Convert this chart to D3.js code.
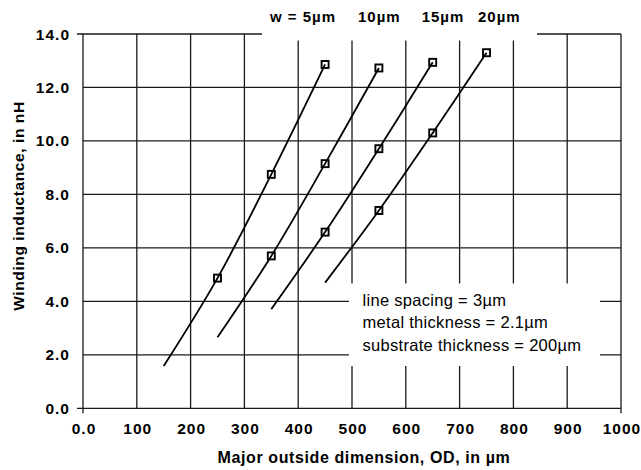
<!DOCTYPE html>
<html><head><meta charset="utf-8">
<script src="https://cdn.jsdelivr.net/npm/d3@7"></script>
<style>
html,body{margin:0;padding:0;background:#fff;}
text{font-family:"Liberation Sans",Arial,Helvetica,sans-serif;}
</style></head>
<body><svg id="c" width="641" height="470"></svg>
<script>
// ---- data ----
const seriesNames = ["w = 5\u00b5m", "10\u00b5m", "15\u00b5m", "20\u00b5m"];
// fitted curve points (first point = start of fitted line, rest = measured markers)
const od5  = [150, 250, 350, 450];
const ind5 = [1.58, 4.87, 8.75, 12.86];
const od10  = [250, 350, 450, 550];
const ind10 = [2.66, 5.70, 9.15, 12.73];
const od15  = [350, 450, 550, 650];
const ind15 = [3.71, 6.59, 9.71, 12.94];
const od20  = [450, 550, 650, 750];
const ind20 = [4.70, 7.40, 10.30, 13.30];
const xTicks = [0,100,200,300,400,500,600,700,800,900,1000];
const xTickLabels = ["0.0","100","200","300","400","500","600","700","800","900","1000"];
const yTicks = [0,2,4,6,8,10,12,14];
const yTickLabels = ["0.0","2.0","4.0","6.0","8.0","10.0","12.0","14.0"];
const notes = ["line spacing = 3\u00b5m", "metal thickness = 2.1\u00b5m", "substrate thickness = 200\u00b5m"];
const xTitle = "Major outside dimension, OD, in \u00b5m";
const yTitle = "Winding inductance, in nH";

const series = [[od5,ind5],[od10,ind10],[od15,ind15],[od20,ind20]];

const svg = d3.select("#c");
const x = d3.scaleLinear().domain([0,1000]).range([83,621]);
const y = d3.scaleLinear().domain([0,14]).range([408.3,34]);
const gridColor = "#1a1a1a";

// grid
const g = svg.append("g");
g.selectAll("line.v").data(xTicks).join("line")
  .attr("x1", d=>x(d)).attr("x2", d=>x(d))
  .attr("y1", y(14)).attr("y2", d=> (d===0||d===1000) ? y(0)+5 : y(0))
  .attr("stroke", gridColor).attr("stroke-width", 1.3);
g.selectAll("line.h").data(yTicks).join("line")
  .attr("x1", d=> (d===0||d===14) ? x(0)-6 : x(0)).attr("x2", x(1000))
  .attr("y1", d=>y(d)).attr("y2", d=>y(d))
  .attr("stroke", gridColor).attr("stroke-width", 1.3);

// white mask behind series labels at top
svg.append("rect").attr("x", 262).attr("y", 28).attr("width", 275).attr("height", 12.5).attr("fill", "#fff");
// white box behind notes
svg.append("rect").attr("x", 349).attr("y", 283.5).attr("width", 251).attr("height", 82.5).attr("fill", "#fff");

// series lines
const line = d3.line().x(d=>x(d[0])).y(d=>y(d[1])).curve(d3.curveCatmullRom.alpha(0.5));
series.forEach(([ods, vals])=>{
  const pts = ods.map((o,i)=>[o, vals[i]]);
  svg.append("path").datum(pts).attr("d", line)
    .attr("fill","none").attr("stroke","#000").attr("stroke-width",1.8);
  svg.selectAll(null).data(pts.slice(1)).join("rect")
    .attr("x", d=>x(d[0])-3.5).attr("y", d=>y(d[1])-3.5)
    .attr("width",7).attr("height",7)
    .attr("fill","none").attr("stroke","#000").attr("stroke-width",1.9);
});

// axis tick labels
const lblStyle = sel => sel.attr("font-weight","bold").attr("font-size","15.5px").attr("letter-spacing","1px").attr("fill","#000");
svg.selectAll("text.xt").data(xTicks).join("text")
  .attr("x", (d)=>x(d)+1).attr("y", 434).attr("text-anchor","middle")
  .text((d,i)=>xTickLabels[i]).call(lblStyle);
svg.selectAll("text.yt").data(yTicks).join("text")
  .attr("x", 70).attr("y", d=>y(d)+5.5).attr("text-anchor","end")
  .text((d,i)=>yTickLabels[i]).call(lblStyle);

// series labels
const labelX = [270, 358, 421.7, 478];
seriesNames.forEach((s,i)=>{
  svg.append("text").attr("x", labelX[i]).attr("y", 22).text(s).call(lblStyle).attr("font-size","15px");
});

// axis titles
svg.append("text").attr("x", 364).attr("y", 463).attr("text-anchor","middle")
  .text(xTitle).call(lblStyle).attr("font-size","16px").attr("letter-spacing","0.6px");
svg.append("text").attr("transform","translate(24,206) rotate(-90)").attr("text-anchor","middle")
  .text(yTitle).call(lblStyle).attr("font-size","15.5px").attr("letter-spacing","0.6px");

// notes
svg.selectAll("text.note").data(notes).join("text")
  .attr("x", 362.5).attr("y",(d,i)=>305.5+i*22.8)
  .attr("font-size","16.5px").attr("letter-spacing","0.3px").attr("fill","#000").text(d=>d);
</script></body></html>
